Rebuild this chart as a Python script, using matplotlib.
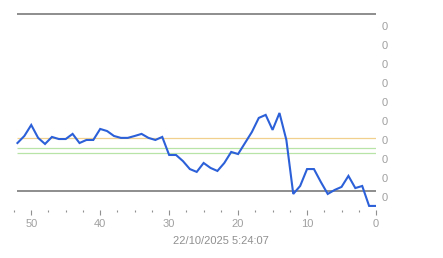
import matplotlib
matplotlib.use("Agg")
import matplotlib.pyplot as plt
from matplotlib.ticker import MultipleLocator

plt.rcParams['font.family'] = ['Liberation Sans', 'DejaVu Sans']

# samples back in time (52 ... 0)
x = list(range(52, -1, -1))
y = [0.384, 0.421, 0.479, 0.411, 0.379, 0.416, 0.405, 0.405, 0.432, 0.384,
     0.400, 0.400, 0.458, 0.447, 0.421, 0.411, 0.411, 0.421, 0.432, 0.411,
     0.400, 0.416, 0.321, 0.321, 0.289, 0.247, 0.232, 0.279, 0.253, 0.237,
     0.279, 0.337, 0.326, 0.384, 0.442, 0.516, 0.532, 0.453, 0.542, 0.400,
     0.116, 0.158, 0.247, 0.247, 0.179, 0.116, 0.137, 0.153, 0.211, 0.147,
     0.158, 0.053, 0.053]

# reference levels
top_level = 1.063
low_level = 0.132
warn_level = 0.411
ok_levels = [0.358, 0.332]

ytick_vals = [0.1, 0.2, 0.3, 0.4, 0.5, 0.6, 0.7, 0.8, 0.9, 1.0]
ytick_labels = ["0"] * 10
xtick_vals = [50, 40, 30, 20, 10, 0]
stamp = "22/10/2025 5:24:07"

fig = plt.figure(figsize=(4.43, 2.58), dpi=100)
ax = fig.add_axes([14 / 443, 48 / 258, 362 / 443, 197 / 258])

gray = "#7a7a7a"
ax.hlines(top_level, x[0], x[-1], color=gray, lw=1.2)
ax.hlines(low_level, x[0], x[-1], color=gray, lw=1.2)
ax.hlines(warn_level, x[0], x[-1], color="#f0d08c", lw=0.9)
for lv in ok_levels:
    ax.hlines(lv, x[0], x[-1], color="#b8e4a8", lw=0.9)

ax.plot(x, y, color="#2c60d8", lw=1.5, solid_joinstyle="miter")

ax.set_xlim(52.5, 0)
ax.set_ylim(0.0316, 1.068)
for s in ax.spines.values():
    s.set_visible(False)

ax.xaxis.set_major_locator(MultipleLocator(10))
ax.xaxis.set_minor_locator(MultipleLocator(2.5))
ax.set_xticks(xtick_vals)
ax.set_xticklabels([str(v) for v in xtick_vals])
ax.tick_params(axis="x", which="major", length=3.5, width=0.8, color="#909090",
               labelcolor="#a0a0a0", labelsize=8, pad=3)
ax.tick_params(axis="x", which="minor", length=1.5, width=0.8, color="#909090")

ax.yaxis.tick_right()
ax.set_yticks(ytick_vals)
ax.set_yticklabels(ytick_labels)
ax.tick_params(axis="y", length=0, labelcolor="#a0a0a0", labelsize=8, pad=4)

fig.text(221 / 443, 1 - 241 / 258, stamp, ha="center", va="center",
         color="#909090", fontsize=8)

fig.savefig("out.png", dpi=100)
